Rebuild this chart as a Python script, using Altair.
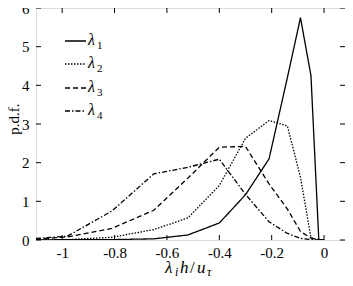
import altair as alt
import pandas as pd

# shared x grid of the histogram bins
x_vals = [-1.1, -0.98, -0.81, -0.65, -0.52, -0.40, -0.30, -0.21, -0.14, -0.09, -0.05, -0.02, 0.0]
lam1 = [0.0, 0.01, 0.01, 0.03, 0.13, 0.44, 1.17, 2.10, 4.20, 5.75, 4.25, 0.0, 0.0]
lam2 = [0.0, 0.01, 0.07, 0.27, 0.57, 1.41, 2.63, 3.09, 2.95, 1.62, 0.06, 0.0, 0.0]
lam3 = [0.02, 0.08, 0.30, 0.77, 1.60, 2.40, 2.42, 1.45, 0.80, 0.22, 0.05, 0.01, 0.0]
lam4 = [0.04, 0.10, 0.75, 1.71, 1.88, 2.09, 1.18, 0.47, 0.17, 0.04, 0.01, 0.0, 0.0]
series_names = ["l1", "l2", "l3", "l4"]
legend_digits = ["1", "2", "3", "4"]

x_ticks = [-1.0, -0.8, -0.6, -0.4, -0.2, 0.0]
y_ticks = [0, 1, 2, 3, 4, 5, 6]
x_domain = [-1.1, 0.08]
y_domain = [0, 6]

W, H = 309, 232
FONT = "Liberation Serif"

rows = []
for name, vals in zip(series_names, [lam1, lam2, lam3, lam4]):
    for xv, yv in zip(x_vals, vals):
        rows.append({"x": xv, "y": yv, "series": name})
df = pd.DataFrame(rows)

dashes = [[1, 0], [1.5, 1.5], [5, 3], [5, 2, 1.5, 2]]

xs = alt.Scale(domain=x_domain, nice=False, zero=False)
ys = alt.Scale(domain=y_domain, nice=False)

x_axis = alt.Axis(values=x_ticks, labelExpr="'' + datum.value",
                  domain=False, ticks=False, grid=False, labelOverlap=False,
                  labelFont=FONT, labelFontSize=15, labelColor="black",
                  labelPadding=5, title=None)
y_axis = alt.Axis(values=y_ticks, labelExpr="'' + datum.value",
                  domain=False, ticks=False, grid=False,
                  labelOverlap=False, labelFlush=False,
                  labelFont=FONT, labelFontSize=15, labelColor="black",
                  labelPadding=7, title=None)

lines = alt.Chart(df).mark_line(color="black", strokeWidth=1.3, clip=True).encode(
    x=alt.X("x:Q", scale=xs, axis=x_axis),
    y=alt.Y("y:Q", scale=ys, axis=y_axis),
    strokeDash=alt.StrokeDash("series:N", scale=alt.Scale(domain=series_names, range=dashes), legend=None),
)

xt = pd.DataFrame({"v": x_ticks})
yt = pd.DataFrame({"v": y_ticks})
tick_style = dict(color="black", strokeWidth=1)
bottom = alt.Chart(xt).mark_rule(**tick_style).encode(x=alt.X("v:Q", scale=xs, axis=x_axis), y=alt.value(H), y2=alt.value(H - 5))
top = alt.Chart(xt).mark_rule(**tick_style).encode(x=alt.X("v:Q", scale=xs, axis=x_axis), y=alt.value(0), y2=alt.value(5))
left = alt.Chart(yt).mark_rule(**tick_style).encode(y=alt.Y("v:Q", scale=ys, axis=y_axis), x=alt.value(0), x2=alt.value(5))
right = alt.Chart(yt).mark_rule(**tick_style).encode(y=alt.Y("v:Q", scale=ys, axis=y_axis), x=alt.value(W), x2=alt.value(W - 5))


def txt(s, x, y, size, italic=True, angle=0, align="left"):
    return alt.Chart(pd.DataFrame({"t": [s]})).mark_text(
        font=FONT, fontSize=size, fontStyle="italic" if italic else "normal",
        align=align, baseline="alphabetic", angle=angle, color="black"
    ).encode(text="t:N", x=alt.value(x), y=alt.value(y))


# x-axis title: lambda_i h / u_tau
ox, oy = -36, -8
title_parts = [
    txt("λ", 165 + ox, 273 + oy, 17),
    txt("i", 175 + ox, 276 + oy, 12),
    txt("h", 180 + ox, 273 + oy, 17),
    txt("/", 190 + ox, 273 + oy, 17, italic=False),
    txt("u", 197 + ox, 273 + oy, 17),
    txt("τ", 207 + ox, 276 + oy, 12),
]
ytitle = alt.Chart(pd.DataFrame({"t": ["p.d.f."]})).mark_text(
    font=FONT, fontSize=15, angle=270, align="center", baseline="middle", color="black"
).encode(text="t:N", x=alt.value(14 + ox), y=alt.value(119 + oy))

# legend
leg_y = [41, 64, 88, 111]
legend_layers = []
for name, d, dig, ly in zip(series_names, dashes, legend_digits, leg_y):
    legend_layers.append(
        alt.Chart(pd.DataFrame({"s": [name]})).mark_rule(color="black", strokeWidth=1.3, strokeDash=d).encode(
            x=alt.value(65 + ox), x2=alt.value(86 + ox), y=alt.value(ly + oy)
        )
    )
    legend_layers.append(txt("λ", 88 + ox, ly + 4 + oy, 16))
    legend_layers.append(txt(dig, 97 + ox, ly + 8 + oy, 11, italic=False))

chart = alt.layer(lines, bottom, top, left, right, ytitle, *title_parts, *legend_layers).properties(
    width=W, height=H, autosize="none",
    padding={"left": 28, "top": 0, "right": 0, "bottom": 38},
).configure_view(stroke="black", strokeWidth=1).configure(background="white")

chart.save("out.html", embed_options={"renderer": "svg", "actions": False})
